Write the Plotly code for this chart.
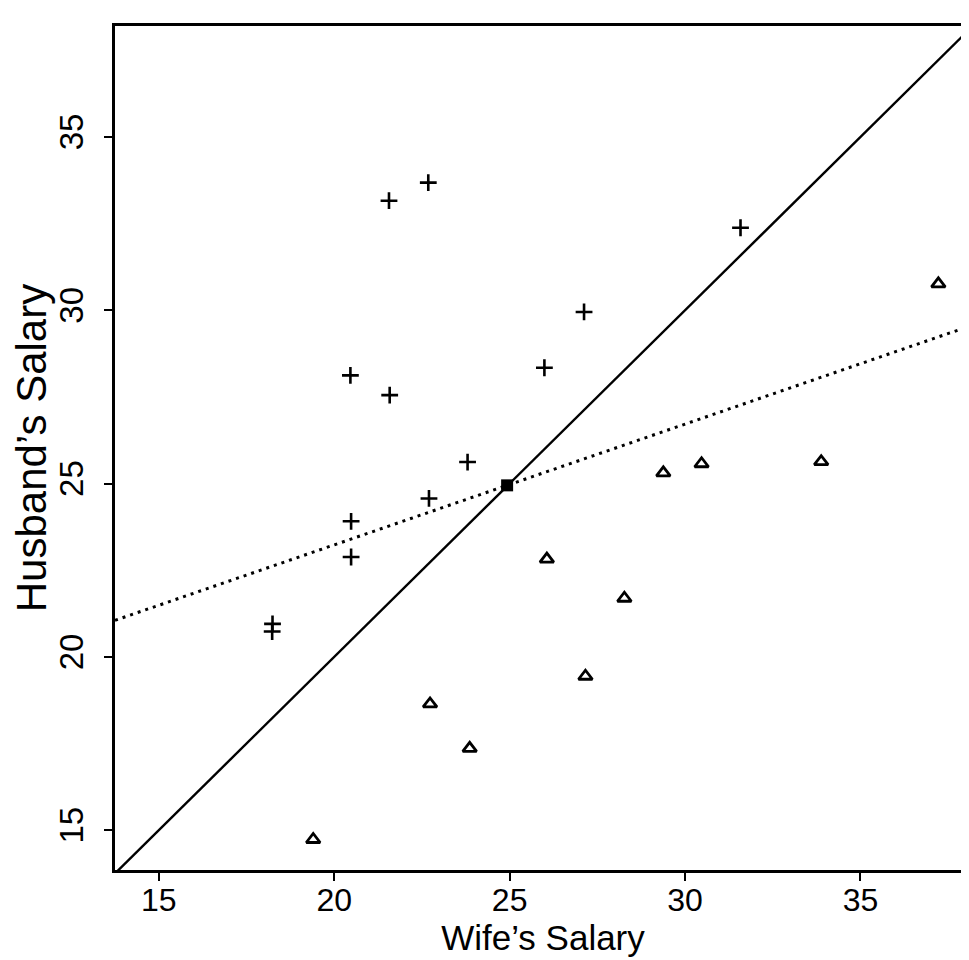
import numpy as np
import plotly.graph_objects as go

# Husband earns more than wife (plus signs)
wife_plus = [22.68, 21.56, 31.58, 27.12, 25.99, 20.46, 21.58, 23.80, 22.70, 20.48, 20.48, 18.24, 18.23]
husband_plus = [33.68, 33.16, 32.38, 29.95, 28.34, 28.12, 27.55, 25.62, 24.57, 23.91, 22.88, 20.95, 20.73]

# Wife earns more than husband (triangles)
wife_tri = [37.22, 29.38, 30.47, 33.88, 26.06, 28.27, 27.16, 22.73, 23.86, 19.40]
husband_tri = [30.76, 25.31, 25.57, 25.63, 22.82, 21.69, 19.44, 18.64, 17.36, 14.73]

tick_vals = [15, 20, 25, 30, 35]
tick_text = ["15", "20", "25", "30", "35"]

X_RANGE = [13.75, 38.15]
Y_RANGE = [13.85, 38.2]

wife_all = np.array(wife_plus + wife_tri)
husb_all = np.array(husband_plus + husband_tri)
mean_w, mean_h = wife_all.mean(), husb_all.mean()
slope, intercept = np.polyfit(wife_all, husb_all, 1)

FONT = "Liberation Sans, Arial, Helvetica, sans-serif"

fig = go.Figure()

# line of equality (husband = wife)
fig.add_trace(go.Scatter(
    x=X_RANGE, y=X_RANGE, mode="lines",
    line=dict(color="black", width=2.4), hoverinfo="skip", showlegend=False))

# least squares regression line
rx = np.array(X_RANGE)
fig.add_trace(go.Scatter(
    x=rx, y=intercept + slope * rx, mode="lines",
    line=dict(color="black", width=3, dash="3px,5px"), hoverinfo="skip", showlegend=False))

fig.add_trace(go.Scatter(
    x=wife_plus, y=husband_plus, mode="markers",
    marker=dict(symbol="cross-thin-open", size=12, color="black", line=dict(color="black", width=2.6)),
    showlegend=False))

fig.add_trace(go.Scatter(
    x=wife_tri, y=husband_tri, mode="markers",
    marker=dict(symbol="triangle-up-open", size=12, color="black", line=dict(color="black", width=2.8)),
    showlegend=False))

fig.add_trace(go.Scatter(
    x=[mean_w], y=[mean_h], mode="markers",
    marker=dict(symbol="square", size=12, color="black"),
    showlegend=False))

axis_common = dict(
    showline=True, linecolor="black", linewidth=2.6, mirror=True,
    showgrid=False, zeroline=False,
    ticks="outside", ticklen=8, tickwidth=2, tickcolor="black",
    tickvals=tick_vals, ticktext=tick_text,
)

fig.update_xaxes(range=X_RANGE, ticklabelstandoff=-8,
                 tickfont=dict(family=FONT, size=32, color="black"), **axis_common,
                 title=dict(text="Wife\u2019s Salary", font=dict(family=FONT, size=35, color="black"), standoff=2))
fig.update_yaxes(range=Y_RANGE, tickangle=-90, ticklabelstandoff=8,
                 tickfont=dict(family=FONT, size=33, color="black"), **axis_common,
                 title=dict(text="Husband\u2019s Salary", font=dict(family=FONT, size=42, color="black"), standoff=2))

fig.update_layout(
    width=969, height=960,
    margin=dict(l=107, r=6, t=18, b=98, autoexpand=False),
    plot_bgcolor="white", paper_bgcolor="white",
    font=dict(family=FONT, color="black"),
)

fig.write_html("out.html")
